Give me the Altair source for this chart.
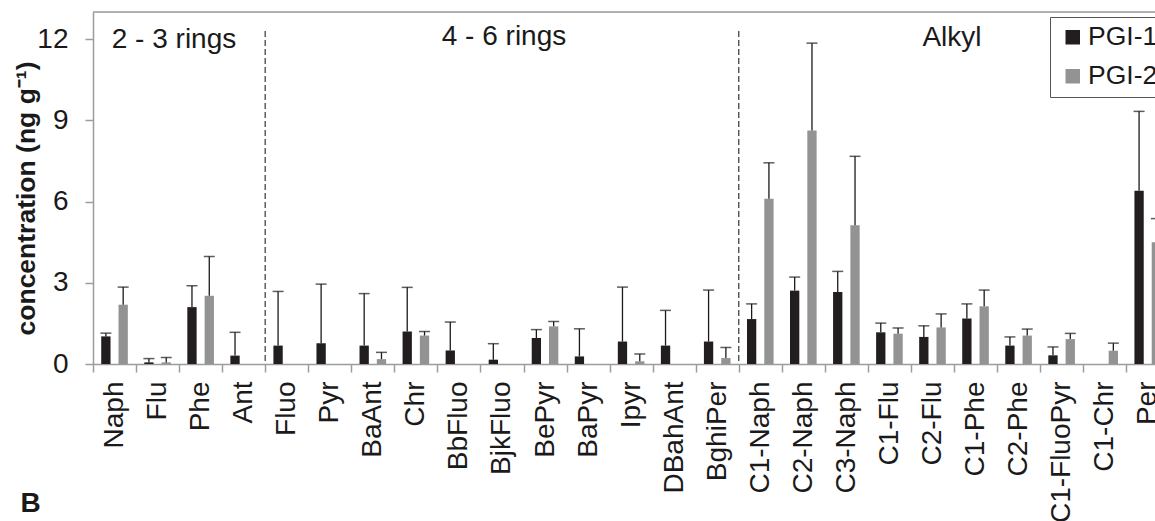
import altair as alt
import pandas as pd

categories = ["Naph", "Flu", "Phe", "Ant", "Fluo", "Pyr", "BaAnt", "Chr", "BbFluo",
              "BjkFluo", "BePyr", "BaPyr", "Ipyr", "DBahAnt", "BghiPer", "C1-Naph",
              "C2-Naph", "C3-Naph", "C1-Flu", "C2-Flu", "C1-Phe", "C2-Phe",
              "C1-FluoPyr", "C1-Chr", "Per"]
series = ["PGI-1", "PGI-2"]
pgi1_mean = [1.02, 0.06, 2.10, 0.31, 0.68, 0.77, 0.68, 1.20, 0.50, 0.16, 0.96, 0.28, 0.83,
             0.68, 0.83, 1.66, 2.71, 2.66, 1.17, 1.00, 1.68, 0.68, 0.32, 0.0, 6.40]
pgi1_sd = [0.12, 0.14, 0.79, 0.86, 2.00, 2.18, 1.92, 1.63, 1.05, 0.59, 0.31, 1.02, 2.01,
           1.30, 1.90, 0.56, 0.50, 0.76, 0.34, 0.41, 0.54, 0.32, 0.31, 0.0, 2.93]
pgi2_mean = [2.19, 0.06, 2.52, 0.0, 0.0, 0.0, 0.18, 1.05, 0.0, 0.0, 1.39, 0.0, 0.10,
             0.0, 0.22, 6.10, 8.62, 5.12, 1.12, 1.35, 2.13, 1.05, 0.92, 0.49, 4.50]
pgi2_sd = [0.65, 0.18, 1.45, 0.0, 0.0, 0.0, 0.25, 0.15, 0.0, 0.0, 0.18, 0.0, 0.27,
           0.0, 0.39, 1.33, 3.23, 2.55, 0.21, 0.50, 0.60, 0.24, 0.21, 0.28, 0.87]
group_boundaries = ["Fluo", "C1-Naph"]
y_ticks = [0, 3, 6, 9, 12]

rows = []
for s, means, sds in [("PGI-1", pgi1_mean, pgi1_sd), ("PGI-2", pgi2_mean, pgi2_sd)]:
    for c, m, e in zip(categories, means, sds):
        rows.append({"compound": c, "series": s, "value": m, "upper": round(m + e, 3), "sd": e})
df = pd.DataFrame(rows)

FONT = "Liberation Sans"
GRAY = "#9c9c9c"
BAND = 43.05
C1 = "#221e1f"
C2 = "#939393"


def xenc(**kw):
    return alt.X(
        "compound:N",
        sort=categories,
        scale=alt.Scale(domain=categories, range=[0, BAND * len(categories)],
                        paddingInner=0, paddingOuter=0),
        axis=alt.Axis(title=None, labelAngle=270, labelAlign="right", labelBaseline="middle",
                      labelFontSize=28, labelFont=FONT, labelColor="#1a1a1a", labelPadding=9,
                      tickSize=8, tickColor=GRAY, tickWidth=1.5, domainColor=GRAY,
                      domainWidth=1.5, tickBand="extent", labelOverlap=False, grid=False),
        **kw,
    )


yscale = alt.Scale(domain=[0, 13], nice=False, zero=True)
yaxis = alt.Axis(values=y_ticks, title="concentration (ng g⁻¹)", titleFont=FONT,
                 titleFontSize=26.5, titleFontWeight="bold", titleColor="#1a1a1a",
                 titleX=-67, titleY=186, titleAngle=270, titleAlign="center",
                 titleBaseline="middle", labelFont=FONT, labelFontSize=28,
                 labelColor="#1a1a1a", labelPadding=17, tickSize=8, tickColor=GRAY,
                 tickWidth=1.5, domainColor=GRAY, domainWidth=1.5, grid=False)

xoff = alt.XOffset("series:N", sort=series,
                   scale=alt.Scale(domain=series, paddingInner=0.462, paddingOuter=0.475))

bars = alt.Chart(df).mark_bar().encode(
    x=xenc(),
    xOffset=xoff,
    y=alt.Y("value:Q", scale=yscale, axis=yaxis),
    color=alt.Color("series:N", sort=series,
                    scale=alt.Scale(domain=series, range=[C1, C2]),
                    legend=alt.Legend(title=None, orient="none", legendX=957, legendY=5,
                                      symbolType="square", symbolSize=210,
                                      symbolStrokeWidth=0, labelFont=FONT,
                                      labelFontSize=26.5, labelColor="#1a1a1a",
                                      padding=7, symbolOffset=2.5, rowPadding=12,
                                      labelOffset=2, strokeColor="#555555",
                                      fillColor="white")),
)

err = alt.Chart(df).transform_filter(alt.datum.sd > 0)
err_rule = err.mark_rule(color="#1a1a1a", strokeWidth=1.3).encode(
    x=xenc(), xOffset=xoff, y=alt.Y("value:Q", scale=yscale), y2="upper:Q")
err_cap = err.mark_tick(color="#1a1a1a", thickness=1.5, size=11, orient="horizontal").encode(
    x=xenc(), xOffset=xoff, y=alt.Y("upper:Q", scale=yscale))

bdf = pd.DataFrame({"compound": group_boundaries})
dashes = alt.Chart(bdf).mark_rule(color="#444444", strokeWidth=1.3, strokeDash=[6, 3]).encode(
    x=xenc(bandPosition=0), y=alt.datum(12.3), y2=alt.datum(0))

one = pd.DataFrame({"a": [0]})
top_line = alt.Chart(one).mark_rule(color=GRAY, strokeWidth=1.5).encode(y=alt.datum(13))


def label(txt, x, y, size=28, weight="normal", align="center"):
    return alt.Chart(one).mark_text(text=txt, font=FONT, fontSize=size, fontWeight=weight,
                                    align=align, baseline="alphabetic", color="#1a1a1a").encode(
        x=alt.value(x), y=alt.value(y))


labels = [
    label("2 - 3 rings", 81, 36),
    label("4 - 6 rings", 411, 33),
    label("Alkyl", 859, 34),
    label("B", -72.5, 500, size=28, weight="bold", align="left"),
]

chart = alt.layer(top_line, dashes, bars, err_rule, err_cap, *labels).properties(
    width=1062, height=352,
    autosize=alt.AutoSizeParams(type="none"),
    padding={"left": 93, "top": 12, "right": 0, "bottom": 157},
).configure_view(stroke=None).configure(font=FONT)

chart.save("out.html", embed_options={"renderer": "svg", "actions": False})
